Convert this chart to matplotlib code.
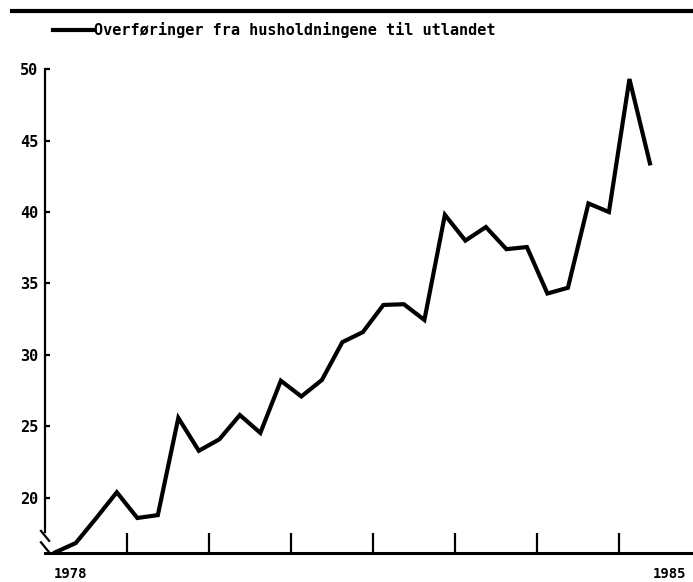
import numpy as np
import matplotlib.pyplot as plt
from matplotlib.lines import Line2D

# quarterly values 1978Q1 - 1985Q2
start_year = 1978
values = [16.2, 16.85, 18.6, 20.4, 18.6, 18.8, 25.6, 23.3, 24.1, 25.8,
          24.55, 28.2, 27.1, 28.25, 30.9, 31.6, 33.5, 33.55, 32.45, 39.8,
          38.0, 38.95, 37.4, 37.55, 34.3, 34.7, 40.6, 40.0, 49.3, 43.4]
series_label = 'Overføringer fra husholdningene til utlandet'
y_ticks = [20, 25, 30, 35, 40, 45, 50]
year_ticks = [1979, 1980, 1981, 1982, 1983, 1984, 1985]
first_label = '1978'
last_label = '1985'

plt.rcParams['font.family'] = ['DejaVu Sans Mono', 'DejaVu Sans']
plt.rcParams['font.weight'] = 'bold'

quarters = np.arange(len(values))
x = start_year + (quarters + 0.5) / 4

fig = plt.figure(figsize=(6.93, 5.82), dpi=100)
ax = fig.add_axes([0.065, 0.0498, 0.935, 0.8316])

line, = ax.plot(x, values, color='black', lw=3, solid_joinstyle='miter')

ax.set_xlim(1978, 1985.9)
ax.set_ylim(16.15, 50)

for s in ['top', 'right']:
    ax.spines[s].set_visible(False)
ax.spines['bottom'].set_linewidth(2.2)
ax.spines['left'].set_linewidth(1.6)
ax.spines['left'].set_bounds(17.6, 50)

ax.set_xticks(year_ticks)
ax.set_xticklabels([])
ax.tick_params(axis='x', direction='in', length=14.5, width=1.6)
ax.set_yticks(y_ticks)
ax.set_yticklabels([str(t) for t in y_ticks], fontsize=11, fontweight='bold')
ax.tick_params(axis='y', direction='in', length=3.5, width=1.6, pad=5)

# axis break on the y axis
for yb in (17.35, 16.55):
    ax.plot([1977.95, 1978.05], [yb + 0.35, yb - 0.35], color='black',
            lw=1.6, clip_on=False)

ax.text(0.013, -0.044, first_label, transform=ax.transAxes, ha='left',
        va='center', fontsize=10, fontweight='bold')
ax.text(0.99, -0.044, last_label, transform=ax.transAxes, ha='right',
        va='center', fontsize=10, fontweight='bold')

# top rule and legend
fig.add_artist(Line2D([12 / 693, 1], [1 - 11 / 582] * 2, lw=3, color='black'))
fig.legend([line], [series_label], loc='upper left',
           bbox_to_anchor=(53 / 693, 1 - 22 / 582), frameon=False,
           handlelength=2.6, handletextpad=0.1, borderpad=0,
           borderaxespad=0, prop={'size': 11, 'weight': 'bold'})

plt.savefig('out.png', dpi=100)
